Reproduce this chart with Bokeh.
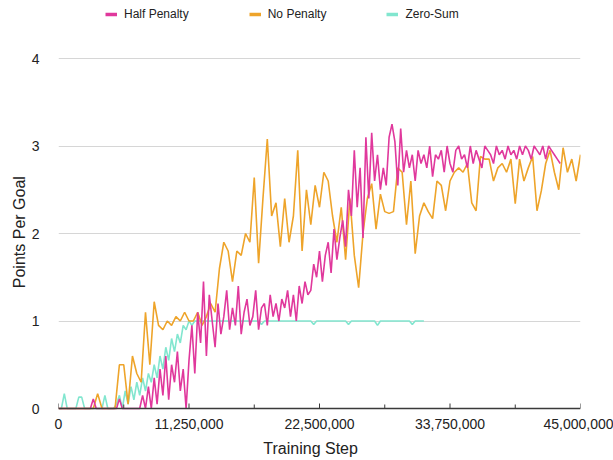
from bokeh.plotting import figure
from bokeh.models import (FixedTicker, NumeralTickFormatter, Legend, LegendItem,
                          Range1d, Span)
from bokeh.embed import file_html
from bokeh.resources import INLINE

# ---------------- data ----------------
X_TICKS = [0, 11_250_000, 22_500_000, 33_750_000, 45_000_000]
X_MINOR = [5_625_000, 16_875_000, 28_125_000, 39_375_000]
Y_TICKS = [0, 1, 2, 3, 4]

HALF_STEP = 250_000      # logging interval of "Half Penalty"
NO_STEP = 375_000        # logging interval of "No Penalty"
ZERO_STEP = 250_000      # logging interval of "Zero-Sum"

half_penalty = [
    # 0 - 7.25M
    0, 0, 0, 0, 0, 0, 0, 0, 0, 0, 0, 0, 0.11, 0, 0, 0, 0, 0, 0, 0, 0, 0.11,
    0, 0, 0, 0, 0, 0, 0, 0.15,
    # 7.5 - 11.25M
    0, 0.25, 0, 0.35, 0.05, 0.45, 0.15, 0.6, 0.1, 0.5, 0.3, 0.65, 0.2, 0.45,
    0, 0.55,
    # 11.5 - 21.5M
    0.95, 0.4, 1.1, 0.75, 1.45, 0.6, 1.3, 1.0, 0.7, 1.2, 0.85, 1.05, 1.35,
    0.9, 1.15, 0.95, 1.4, 0.85, 1.1, 1.25, 0.95, 1.05, 1.35, 0.9, 1.15, 1.2,
    0.95, 1.3, 1.05, 1.2, 1.0, 1.25, 1.15, 1.35, 1.05, 1.3, 1.0, 1.4, 1.2,
    1.45, 1.3,
    # 21.75 - 24.75M
    1.35, 1.65, 1.5, 1.8, 1.45, 1.75, 1.9, 1.55, 2.05, 1.7, 1.95, 2.15, 1.85,
    # 25 - 29.5M
    2.5, 2.2, 2.95, 2.3, 2.75, 1.95, 3.1, 2.4, 3.15, 2.6, 2.9, 2.5, 2.75,
    2.55, 3.1, 3.25, 3.05, 2.55, 3.2,
    # 29.75 - 43.25M
    2.7, 2.95, 2.75, 2.9, 2.6, 2.95, 2.8, 2.9, 2.75, 3.0,
    2.65, 2.9, 2.85, 2.95, 2.7, 3.0, 2.8, 2.7, 2.95, 3.0,
    2.85, 2.9, 2.75, 3.0, 2.8, 2.95, 2.85, 2.75, 3.0, 2.95,
    2.9, 2.8, 3.0, 2.9, 2.95, 2.85, 3.0, 2.9, 2.95, 2.85,
    3.0, 2.9, 3.0, 2.95, 2.85, 3.0, 2.95, 2.9, 3.0, 2.85,
    3.0, 2.95, 2.9, 2.85, 2.8,
]

no_penalty = [
    0, 0, 0, 0, 0, 0, 0, 0, 0, 0.17, 0, 0, 0, 0,
    0.5, 0.5, 0.05, 0.6, 0.4, 0.3, 1.1, 0.5, 1.22, 0.95,
    0.9, 1.0, 0.95, 1.05, 1.0, 1.1, 1.0, 1.0, 1.1, 0.95,
    1.05, 1.2, 1.1, 1.6, 1.9, 1.8, 1.45, 1.8, 1.75, 2.0,
    1.9, 2.64, 1.66, 2.4, 3.08, 2.2, 2.35, 1.85, 2.4, 1.9,
    2.2, 2.95, 1.8, 2.5, 2.1, 2.55, 2.3, 2.7, 2.6, 2.2,
    1.9, 2.3, 1.7, 2.4, 1.75, 1.38, 2.0, 2.4, 2.57, 2.05,
    2.45, 2.25, 2.23, 2.25, 2.75, 2.7, 2.1, 2.6, 1.77, 2.2,
    2.35, 2.25, 2.17, 2.6, 2.55, 2.26, 2.6, 2.7, 2.75, 2.7,
    2.8, 2.35, 2.26, 2.88, 2.85, 2.85, 2.6, 2.75, 2.8, 2.7,
    2.85, 2.34, 2.85, 2.6, 2.75, 2.88, 2.26, 2.49, 2.8, 2.95,
    2.7, 2.5, 2.98, 2.7, 2.85, 2.6, 2.9,
]

zero_sum = [
    0, 0, 0.17, 0, 0, 0, 0, 0.13, 0.13, 0, 0, 0, 0, 0, 0, 0, 0.15, 0, 0, 0,
    0.05, 0.15, 0, 0.2, 0.05, 0.25, 0.1, 0.3, 0.15, 0.35, 0.2, 0.4, 0.3, 0.5,
    0.35, 0.6, 0.45, 0.7, 0.55, 0.8, 0.65, 0.85, 0.75, 0.95, 0.9, 1.0, 0.95,
    1.0,
    1, 1, 1, 1, 1, 1, 1, 1, 1, 1,
    1, 1, 1, 1, 1, 1, 1, 1, 1, 1,
    1, 1, 0.96, 1, 1, 1, 1, 1, 1, 1,
    1, 1, 1, 1, 1, 1, 1, 1, 1, 1,
    0.96, 1, 1, 1, 1, 1, 1, 1, 1, 1,
    1, 1, 0.96, 1, 1, 1, 1, 1, 1, 1,
    1, 1, 0.95, 1, 1, 1, 1, 1, 1, 1,
    1, 1, 1, 1, 0.96, 1, 1, 1, 1,
]

SERIES = ["Half Penalty", "No Penalty", "Zero-Sum"]
COLORS = {"Half Penalty": "#e0389c", "No Penalty": "#eea42a", "Zero-Sum": "#82e6cf"}
DATA = {
    "Half Penalty": ([i * HALF_STEP for i in range(len(half_penalty))], half_penalty),
    "No Penalty": ([i * NO_STEP for i in range(len(no_penalty))], no_penalty),
    "Zero-Sum": ([i * ZERO_STEP for i in range(len(zero_sum))], zero_sum),
}

FONT = "Liberation Sans"
NBSP = "\u00a0"
AXIS_COLOR = "#3a3a3a"

# frame spans the full height above the x axis; y=4 lands on the top gridline
PX_PER_UNIT = 87.5
Y_TOP = 408 / PX_PER_UNIT
Y_BOTTOM = -2 / PX_PER_UNIT

p = figure(width=613, height=460, output_backend="svg", toolbar_location=None,
           x_range=Range1d(0, 45_000_000), y_range=Range1d(Y_BOTTOM, Y_TOP),
           min_border_left=58, min_border_right=33, min_border_top=0,
           min_border_bottom=50)
p.outline_line_color = None
p.background_fill_color = "white"
p.border_fill_color = "white"

p.xgrid.grid_line_color = None
p.ygrid.ticker = FixedTicker(ticks=Y_TICKS[1:])
p.ygrid.grid_line_color = "#d6d6d6"
p.ygrid.grid_line_width = 1

# lines (mint at bottom, magenta on top)
for s in ["Zero-Sum", "No Penalty", "Half Penalty"]:
    xs, ys = DATA[s]
    p.line(xs, ys, line_color=COLORS[s], line_width=1.6)

# x axis baseline and inward tick marks
p.add_layout(Span(location=0, dimension="width", line_color=AXIS_COLOR,
                  line_width=1.3))
p.segment(x0=X_TICKS, y0=[0] * len(X_TICKS), x1=X_TICKS,
          y1=[5 / PX_PER_UNIT] * len(X_TICKS), line_color=AXIS_COLOR, line_width=1)
p.segment(x0=X_MINOR, y0=[0] * len(X_MINOR), x1=X_MINOR,
          y1=[4 / PX_PER_UNIT] * len(X_MINOR), line_color=AXIS_COLOR, line_width=1)

# legend swatches (thicker than the data lines); a single point draws no line
sw = {s: p.line(x=DATA[s][0][:1], y=DATA[s][1][:1], line_color=COLORS[s],
                line_width=3.5) for s in SERIES}

legend = Legend(items=[LegendItem(label=s, renderers=[sw[s]]) for s in SERIES],
                orientation="horizontal", location=(47, 389), spacing=60,
                glyph_width=12, glyph_height=14, label_standoff=7,
                padding=0, margin=0, border_line_alpha=0,
                background_fill_alpha=0, label_text_font=FONT,
                label_text_font_size="12px", label_text_color="#222222")
p.add_layout(legend, "center")

# x axis (labels only; line and ticks drawn above)
xa = p.xaxis[0]
xa.ticker = FixedTicker(ticks=X_TICKS, minor_ticks=X_MINOR)
xa.formatter = NumeralTickFormatter(format="0,0")
xa.axis_line_color = None
xa.major_tick_line_color = None
xa.minor_tick_line_color = None
xa.major_tick_in = 0
xa.major_tick_out = 0
xa.minor_tick_in = 0
xa.minor_tick_out = 0
xa.major_label_standoff = 8
xa.major_label_text_font = FONT
xa.major_label_text_font_size = "14px"
xa.major_label_text_color = "#222222"
xa.axis_label = "Training Step" + NBSP * 4
xa.axis_label_text_font = FONT
xa.axis_label_text_font_size = "16px"
xa.axis_label_text_font_style = "normal"
xa.axis_label_text_color = "#222222"
xa.axis_label_standoff = 8

# y axis
ya = p.yaxis[0]
ya.ticker = FixedTicker(ticks=Y_TICKS)
ya.axis_line_color = None
ya.major_tick_line_color = None
ya.minor_tick_line_color = None
ya.major_label_standoff = 13
ya.major_label_text_font = FONT
ya.major_label_text_font_size = "14px"
ya.major_label_text_color = "#222222"
ya.axis_label = "Points Per Goal" + NBSP * 12
ya.axis_label_text_font = FONT
ya.axis_label_text_font_size = "16px"
ya.axis_label_text_font_style = "normal"
ya.axis_label_text_color = "#222222"
ya.axis_label_standoff = 1

open("out.html", "w").write(file_html(p, INLINE))
